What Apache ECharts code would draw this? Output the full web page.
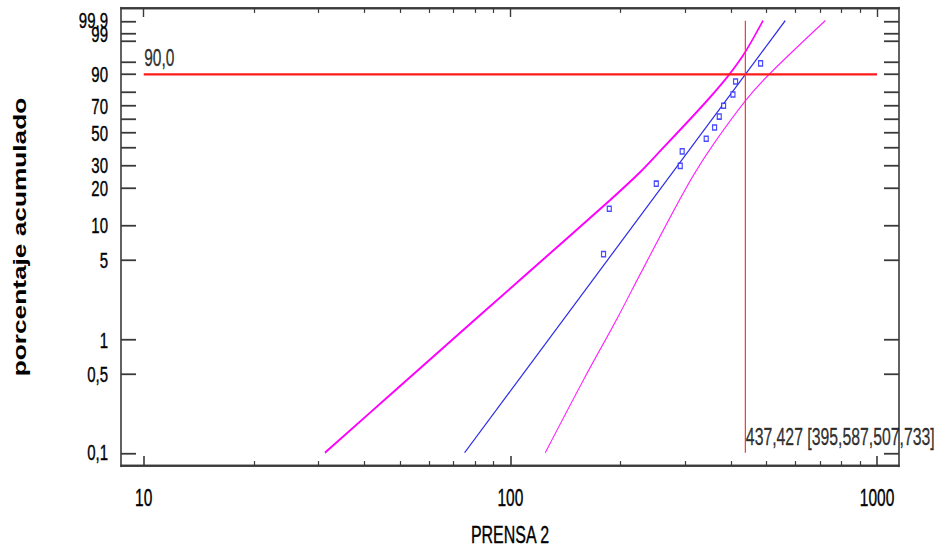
<!DOCTYPE html>
<html>
<head>
<meta charset="utf-8">
<script src="https://cdn.jsdelivr.net/npm/echarts@6/dist/echarts.min.js"></script>
<style>
html{overflow:hidden;}
html,body{margin:0;padding:0;background:#fff;}
body{width:947px;height:555px;}
#chart{width:947px;height:370px;transform:scaleY(1.5);transform-origin:0 0;}
</style>
</head>
<body>
<div id="chart"></div>
<script>
// ---- data ----
// observed values (PRENSA 2) and their cumulative percentages
const obsX = [179.5, 186.1, 250.0, 290.6, 294.2, 342.1, 360.5, 371.3, 381.5, 404.6, 411.3, 481.3];
const obsP = [5.65, 13.7, 21.8, 29.8, 37.9, 46.0, 54.0, 62.1, 70.2, 78.2, 86.3, 94.4];
// fitted Weibull line end points [x, percent]
const fitX = [75, 562];
const fitP = [0.1, 99.9];
// confidence bands [x, percent]
const bandLoX = [31.2, 50.04, 82.74, 141.1, 187.2, 226.1, 256.3, 309.5, 351.0, 395.587, 437.1, 488.7];
const bandLoP = [0.1, 0.391, 1.661, 7.48, 16.16, 26.84, 38.15, 60.3, 76.5, 90, 97.37, 99.9];
const bandHiX = [124.5, 158.3, 195.2, 226.1, 278.6, 316.0, 358.3, 439.2, 507.733, 722.5];
const bandHiP = [0.1, 0.443, 1.532, 3.80, 13.13, 25.45, 42.55, 74.4, 90, 99.9];
// reference percentile and its estimate with interval
const refLevel = 90.0;
const refX = 437.427;
const refLo = 395.587;
const refHi = 507.733;
// axes
const xRange = [8.67, 1148];
const xMajor = [10, 100, 1000];
const xMinor = [20, 30, 40, 50, 60, 70, 80, 90, 200, 300, 400, 500, 600, 700, 800, 900];
const yRange = [0.0762, 99.987];
const yTicks = [0.1, 0.5, 1, 5, 10, 20, 30, 40, 50, 60, 70, 80, 90, 95, 99, 99.5, 99.9];
const yLabelVals = [0.1, 0.5, 1, 5, 10, 20, 30, 50, 70, 90, 99, 99.9];
const yLabelText = ['0,1', '0,5', '1', '5', '10', '20', '30', '50', '70', '90', '99', '99,9'];
const xName = 'PRENSA 2';
const yName = 'porcentaje acumulado';

// ---- scale transforms (log10 x, Weibull probability y) ----
const lx = v => Math.log10(v);
const wb = p => Math.log(-Math.log(1 - p / 100));
const pair = (xs, ps) => xs.map((x, i) => [lx(x), wb(ps[i])]);
const fmt = (v, d) => v.toFixed(d).replace('.', ',');
const yText = v => {
  const i = yLabelVals.findIndex(p => Math.abs(wb(p) - v) < 1e-6);
  return i < 0 ? '' : yLabelText[i];
};

const font = "'Liberation Sans',Arial,sans-serif";
const frame = '#3a3a3a';
const txt = '#000';
const tickFont = {color: txt, fontSize: 15, fontFamily: font, textBorderColor: txt, textBorderWidth: 0.25};

const chart = echarts.init(document.getElementById('chart'), null, {renderer: 'svg'});

const xBase = {
  type: 'value', min: lx(xRange[0]), max: lx(xRange[1]),
  splitLine: {show: false}, axisLabel: {show: false},
  axisLine: {show: true, onZero: false, lineStyle: {color: frame, width: 1.3}}
};
const yBase = {
  type: 'value', min: wb(yRange[0]), max: wb(yRange[1]),
  splitLine: {show: false},
  axisLine: {show: true, onZero: false, lineStyle: {color: frame, width: 1.6}},
  axisTick: {show: true, inside: true, length: 15, customValues: yTicks.map(wb), lineStyle: {color: frame, width: 1.2}}
};

const mainLabels = yLabelVals.filter(p => p !== 99);
const crowdedLabels = yLabelVals.filter(p => p === 99);

const option = {
  animation: false,
  backgroundColor: '#fff',
  grid: {left: 121, right: 48, top: 5.33, bottom: 59.33, containLabel: false},
  xAxis: [
    Object.assign({}, xBase, {
      position: 'bottom',
      axisTick: {show: true, inside: true, length: 6.7, customValues: xMajor.map(lx), lineStyle: {color: frame, width: 1.6}},
      axisLabel: Object.assign({show: true, margin: 13, customValues: xMajor.map(lx), showMinLabel: true, showMaxLabel: true,
        formatter: v => String(Math.round(Math.pow(10, v)))}, tickFont, {fontSize: 15.5}),
      name: xName, nameLocation: 'middle', nameGap: 38,
      nameTextStyle: {color: txt, fontSize: 16, fontFamily: font, textBorderColor: txt, textBorderWidth: 0.25}
    }),
    Object.assign({}, xBase, {
      position: 'bottom',
      axisTick: {show: true, inside: true, length: 3.3, customValues: xMinor.map(lx), lineStyle: {color: frame, width: 1.2}}
    }),
    Object.assign({}, xBase, {
      position: 'top',
      axisTick: {show: true, inside: true, length: 6, customValues: xMajor.map(lx), lineStyle: {color: frame, width: 1.4}}
    }),
    Object.assign({}, xBase, {
      position: 'top',
      axisTick: {show: true, inside: true, length: 3.3, customValues: xMinor.map(lx), lineStyle: {color: frame, width: 1.2}}
    })
  ],
  yAxis: [
    Object.assign({}, yBase, {
      position: 'left',
      axisLabel: Object.assign({show: true, margin: 13, customValues: mainLabels.map(wb),
        showMinLabel: true, showMaxLabel: true, formatter: yText}, tickFont),
      name: yName, nameLocation: 'middle', nameGap: 92,
      nameTextStyle: {color: txt, fontSize: 17.5, fontWeight: 'bold', fontFamily: font}
    }),
    Object.assign({}, yBase, {position: 'right', axisLabel: {show: false}}),
    Object.assign({}, yBase, {
      position: 'left',
      axisLine: {show: false}, axisTick: {show: false},
      axisLabel: Object.assign({show: true, margin: 13, customValues: crowdedLabels.map(wb),
        showMinLabel: true, showMaxLabel: true, formatter: v => '{u|' + yText(v) + '}',
        rich: {u: Object.assign({padding: [0, 0, 8, 0]}, tickFont)}}, tickFont)
    })
  ],
  series: [
    {
      type: 'line', name: 'band-lo', data: pair(bandLoX, bandLoP), symbol: 'none', smooth: 0.3,
      lineStyle: {color: '#ff00ff', width: 1.5}, z: 3
    },
    {
      type: 'line', name: 'band-hi', data: pair(bandHiX, bandHiP), symbol: 'none', smooth: 0.3,
      lineStyle: {color: '#ff22ff', width: 1}, z: 3
    },
    {
      type: 'line', name: 'fit', data: pair(fitX, fitP), symbol: 'none',
      lineStyle: {color: '#2a2ae6', width: 1}, z: 4
    },
    {
      type: 'line', name: 'ref-h', data: pair([xMajor[0], xMajor[2]], [refLevel, refLevel]), symbol: 'none',
      lineStyle: {color: '#ff1a1a', width: 1.4}, z: 5
    },
    {
      type: 'line', name: 'ref-v', data: pair([refX, refX], [fitP[0], fitP[1]]), symbol: 'none',
      lineStyle: {color: '#ff3333', width: 1.2}, z: 5
    },
    {
      type: 'scatter', name: 'obs', data: pair(obsX, obsP), symbol: 'rect', symbolSize: [4, 3.4],
      itemStyle: {color: '#ffffff', borderColor: '#1f1fff', borderWidth: 1.1}, z: 6
    },
    {
      type: 'scatter', name: 'labels', symbolSize: 1, silent: true,
      itemStyle: {color: 'transparent'}, z: 7,
      data: [
        {value: [lx(xMajor[0]), wb(refLevel)],
         label: {show: true, position: 'right', distance: 0, offset: [0, -11.3], formatter: fmt(refLevel, 1)}},
        {value: [lx(refX), wb(fitP[0])],
         label: {show: true, position: 'right', distance: 0, offset: [0, -10.5], fontSize: 15.8,
           formatter: fmt(refX, 3) + ' [' + fmt(refLo, 3) + ',' + fmt(refHi, 3) + ']'}}
      ],
      label: Object.assign({}, tickFont, {fontSize: 15.5})
    }
  ]
};
chart.setOption(option);
</script>
</body>
</html>
